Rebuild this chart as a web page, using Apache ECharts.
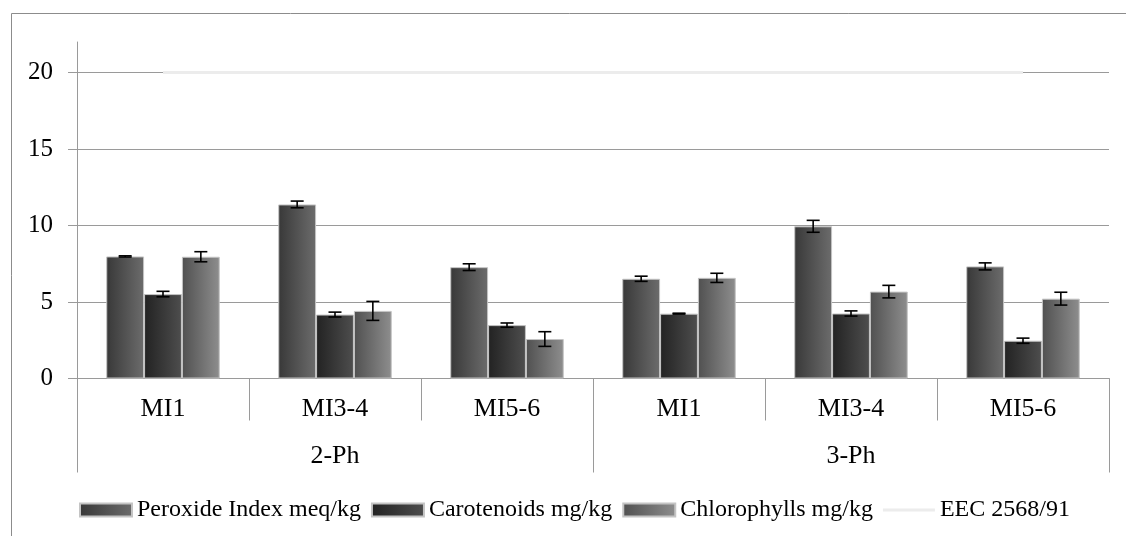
<!DOCTYPE html>
<html>
<head>
<meta charset="utf-8">
<script src="https://cdn.jsdelivr.net/npm/echarts@6/dist/echarts.min.js"></script>
<style>
html,body{margin:0;padding:0;background:#fff;}
#chart{width:1126px;height:536px;}
</style>
</head>
<body>
<div id="chart"></div>
<script>
var categories = ['MI1', 'MI3-4', 'MI5-6', 'MI1', 'MI3-4', 'MI5-6'];
var groups = ['2-Ph', '3-Ph'];
var yTicks = [0, 5, 10, 15, 20];

var peroxide = [7.98, 11.38, 7.28, 6.52, 9.95, 7.33];
var peroxideErr = [0.04, 0.22, 0.22, 0.17, 0.39, 0.23];
var carotenoids = [5.52, 4.18, 3.49, 4.24, 4.25, 2.47];
var carotenoidsErr = [0.18, 0.16, 0.14, 0.03, 0.17, 0.17];
var chlorophylls = [7.96, 4.42, 2.58, 6.58, 5.68, 5.22];
var chlorophyllsErr = [0.33, 0.62, 0.48, 0.30, 0.41, 0.42];
var eecLimit = [20, 20, 20, 20, 20, 20];

var names = ['Peroxide Index meq/kg', 'Carotenoids mg/kg', 'Chlorophylls mg/kg', 'EEC 2568/91'];

var FONT = 'Liberation Serif';
var CAT_GAP = 0.34;

function grad(a, b) {
  return new echarts.graphic.LinearGradient(0, 0, 1, 0, [
    {offset: 0, color: a}, {offset: 1, color: b}
  ]);
}
var colors = [grad('#383838', '#6c6c6c'), grad('#222222', '#4e4e4e'), grad('#505050', '#8e8e8e')];

function errSeries(vals, errs, k) {
  return {
    type: 'custom',
    name: names[k] + ' err',
    xAxisIndex: 0,
    z: 5,
    silent: true,
    data: vals.map(function (v, i) { return [i, v, errs[i]]; }),
    renderItem: function (params, api) {
      var i = api.value(0), v = api.value(1), e = api.value(2);
      var band = api.size([1, 0])[0];
      var bw = band * (1 - CAT_GAP) / 3;
      var c = api.coord([i, v]);
      var x = c[0] + (k - 1) * bw;
      var top = api.coord([i, v + e])[1];
      var bot = api.coord([i, v - e])[1];
      var hw = 6.5;
      var st = {stroke: '#000', lineWidth: 1.6};
      return {
        type: 'group',
        children: [
          {type: 'line', shape: {x1: x, y1: top, x2: x, y2: bot}, style: st},
          {type: 'line', shape: {x1: x - hw, y1: top, x2: x + hw, y2: top}, style: st},
          {type: 'line', shape: {x1: x - hw, y1: bot, x2: x + hw, y2: bot}, style: st}
        ]
      };
    }
  };
}

function barSeries(vals, k) {
  return {
    type: 'bar',
    name: names[k],
    xAxisIndex: 0,
    data: vals,
    barGap: '0%',
    barCategoryGap: (CAT_GAP * 100) + '%',
    itemStyle: {color: colors[k], borderColor: '#c4c4c4', borderWidth: 1},
    z: 3
  };
}

var chart = echarts.init(document.getElementById('chart'), null, {renderer: 'canvas'});
chart.setOption({
  animation: false,
  backgroundColor: '#fff',
  textStyle: {fontFamily: FONT},
  graphic: [{
    type: 'rect', silent: true, z: 0,
    shape: {x: 11.5, y: 13.5, width: 1200, height: 600},
    style: {fill: 'none', stroke: '#8c8c8c', lineWidth: 1}
  }],
  grid: {left: 77, right: 17, top: 42, bottom: 157.5, containLabel: false},
  legend: {
    data: [
      {name: names[0], icon: 'rect'},
      {name: names[1], icon: 'rect'},
      {name: names[2], icon: 'rect'},
      {name: names[3], icon: 'path://M0,0 L52,0 L52,3 L0,3 Z'}
    ],
    left: 79, top: 498, padding: 0,
    itemWidth: 52, itemHeight: 13, itemGap: 10,
    textStyle: {fontFamily: FONT, fontSize: 24, color: '#000'},
    selectedMode: false
  },
  xAxis: [{
    type: 'category',
    position: 'bottom',
    data: categories,
    axisLine: {lineStyle: {color: '#9a9a9a', width: 1}},
    axisTick: {show: true, length: 42, lineStyle: {color: '#9a9a9a'}},
    axisLabel: {fontFamily: FONT, fontSize: 26, color: '#000', margin: 18, interval: 0},
    splitLine: {show: false}
  }, {
    type: 'category',
    position: 'bottom',
    data: groups,
    axisLine: {lineStyle: {color: '#9a9a9a', width: 1}},
    axisTick: {show: true, length: 94, lineStyle: {color: '#9a9a9a'}},
    axisLabel: {fontFamily: FONT, fontSize: 26, color: '#000', margin: 65, interval: 0},
    splitLine: {show: false}
  }],
  yAxis: {
    type: 'value',
    min: 0, max: 22, interval: 5,
    axisLine: {show: true, lineStyle: {color: '#9a9a9a', width: 1}},
    axisTick: {show: true, length: 9, customValues: yTicks, lineStyle: {color: '#9a9a9a'}},
    axisLabel: {fontFamily: FONT, fontSize: 25, color: '#000', margin: 24, customValues: yTicks},
    splitLine: {show: true, showMinLine: false, showMaxLine: true, lineStyle: {color: '#9a9a9a', width: 1}}
  },
  series: [
    barSeries(peroxide, 0),
    barSeries(carotenoids, 1),
    barSeries(chlorophylls, 2),
    {
      type: 'line', name: names[3], xAxisIndex: 0, data: eecLimit,
      symbol: 'none', z: 4,
      lineStyle: {color: '#ececec', width: 3},
      itemStyle: {color: '#ececec'}
    },
    errSeries(peroxide, peroxideErr, 0),
    errSeries(carotenoids, carotenoidsErr, 1),
    errSeries(chlorophylls, chlorophyllsErr, 2)
  ]
});
</script>
</body>
</html>
